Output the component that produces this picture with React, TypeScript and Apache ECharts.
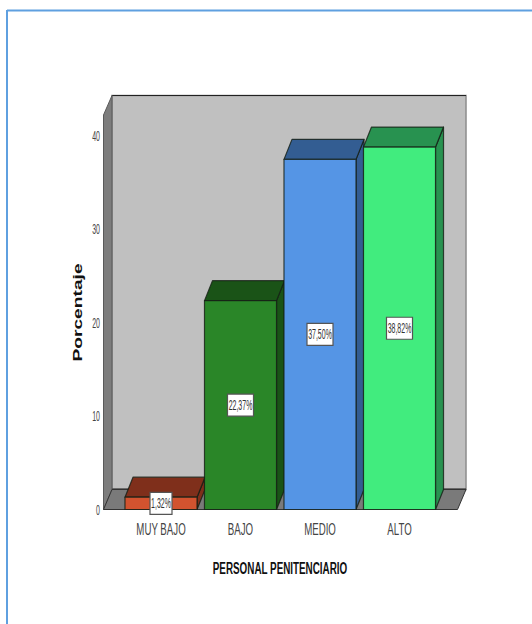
import React, { useEffect, useRef } from "react";
import * as echarts from "echarts";

const categories = ["MUY BAJO", "BAJO", "MEDIO", "ALTO"];
const values = [1.32, 22.37, 37.5, 38.82];
const yTicks = [0, 10, 20, 30, 40];
const frontColors = ["#D2532F", "#2A8628", "#5595E5", "#41EC7E"];
const shadeColors = ["#7F2F1B", "#1A5317", "#335D92", "#289250"];
const yTitle = "Porcentaje";
const xTitle = "PERSONAL PENITENCIARIO";

const sans = "'Liberation Sans', Arial, sans-serif";
const depthX = 8;
const depthY = 20;
const edge = "rgba(20,30,20,0.8)";
const wallStroke = "#333333";

function squeezed(x: number, y: number, text: string, scaleX: number, fontSize: number, fill: string, align = "center") {
  return {
    type: "text",
    x,
    y,
    scaleX,
    style: { x: 0, y: 0, text, align, verticalAlign: "middle", fill, fontFamily: sans, fontSize },
  };
}

export default function App() {
  const ref = useRef<HTMLDivElement>(null);
  useEffect(() => {
    const chart = echarts.init(ref.current!, undefined, { renderer: "svg" });
    chart.setOption({
      animation: false,
      backgroundColor: "#ffffff",
      grid: { left: 121.25, width: 318, top: 115, bottom: 114.5, containLabel: false },
      graphic: [
        { type: "line", silent: true, shape: { x1: 7, y1: 10.5, x2: 532, y2: 10.5 }, style: { stroke: "#5FA0E0", lineWidth: 2 } },
        { type: "line", silent: true, shape: { x1: 7, y1: 10, x2: 7, y2: 624 }, style: { stroke: "#5FA0E0", lineWidth: 2 } },
        { type: "rect", silent: true, shape: { x: 112, y: 95.5, width: 354, height: 394 }, style: { fill: "#C0C0C0", stroke: "#8C8C8C", lineWidth: 1.5 } },
        { type: "line", silent: true, shape: { x1: 112, y1: 95.5, x2: 466, y2: 95.5 }, style: { stroke: "#222222", lineWidth: 1 } },
        { type: "line", silent: true, shape: { x1: 112, y1: 489, x2: 466, y2: 489 }, style: { stroke: "#222222", lineWidth: 1.2 } },
        { type: "polygon", silent: true, shape: { points: [[103.5, 115], [112, 95.5], [112, 489.5], [103.5, 509.5]] }, style: { fill: "#7D7D7D", stroke: "#5A5A5A", lineWidth: 1 } },
        { type: "polygon", silent: true, shape: { points: [[103.5, 509.5], [112, 489.5], [466, 489.5], [457.5, 509.5]] }, style: { fill: "#7A7A7A", stroke: wallStroke, lineWidth: 1 } },
        {
          type: "text", silent: true, x: 280, y: 567.5, scaleX: 0.58,
          style: { x: 0, y: 0, text: xTitle, align: "center", verticalAlign: "middle", fill: "#111111", fontFamily: sans, fontSize: 17, fontWeight: "bold" },
        },
        {
          type: "text", silent: true, x: 78, y: 312.5, rotation: Math.PI / 2, scaleX: 1.6,
          style: { x: 0, y: 0, text: yTitle, align: "center", verticalAlign: "middle", fill: "#111111", fontFamily: sans, fontSize: 12, fontWeight: "bold" },
        },
      ],
      xAxis: {
        type: "category",
        data: categories,
        axisLine: { show: false },
        axisTick: { show: false },
        axisLabel: { show: false },
      },
      yAxis: {
        type: "value",
        min: 0,
        max: 42.25,
        interval: 10,
        offset: 18,
        splitLine: { show: false },
        axisLine: { show: false },
        axisTick: { show: false },
        axisLabel: { show: false },
      },
      series: [
        {
          type: "custom",
          silent: true,
          z: 5,
          data: values.map((v, i) => [i, v]),
          encode: { x: 0, y: 1 },
          renderItem: (_params: any, api: any) => {
            const i = api.value(0);
            const v = api.value(1);
            const band = api.size([1, 0])[0];
            const w = band * 0.906;
            const [cx, top] = api.coord([i, v]);
            const [, base] = api.coord([i, 0]);
            const l = cx - w / 2;
            const r = cx + w / 2;
            const stroke = { stroke: edge, lineWidth: 1.2, lineJoin: "round" };
            const mid = (top + base) / 2;
            const label = v.toFixed(2).replace(".", ",") + "%";
            const boxW = v < 10 ? 22 : 26;
            return {
              type: "group",
              children: [
                { type: "polygon", shape: { points: [[r, top], [r + depthX, top - depthY], [r + depthX, base - depthY], [r, base]] }, style: { fill: shadeColors[i], ...stroke } },
                { type: "polygon", shape: { points: [[l, top], [l + depthX, top - depthY], [r + depthX, top - depthY], [r, top]] }, style: { fill: shadeColors[i], ...stroke } },
                { type: "rect", shape: { x: l, y: top, width: w, height: base - top }, style: { fill: frontColors[i], ...stroke } },
                { type: "rect", shape: { x: cx - boxW / 2, y: mid - 11, width: boxW, height: 22 }, style: { fill: "#FFFFFF", stroke: "#555555", lineWidth: 1.2 } },
                squeezed(cx, mid, label, 0.5, 14, "#333333"),
                squeezed(cx, base + 19, categories[i], 0.57, 17, "#444444"),
              ],
            };
          },
        },
        {
          type: "custom",
          silent: true,
          z: 5,
          data: yTicks.map((t) => [0, t]),
          encode: { x: 0, y: 1 },
          renderItem: (_params: any, api: any) => {
            const t = api.value(1);
            const [, y] = api.coord([0, t]);
            return { type: "group", children: [squeezed(100, y, String(t), 0.5, 14, "#444444", "right")] };
          },
        },
      ],
    });
    return () => chart.dispose();
  }, []);
  return <div ref={ref} style={{ position: "fixed", left: 0, top: 0, width: 532, height: 624 }} />;
}
